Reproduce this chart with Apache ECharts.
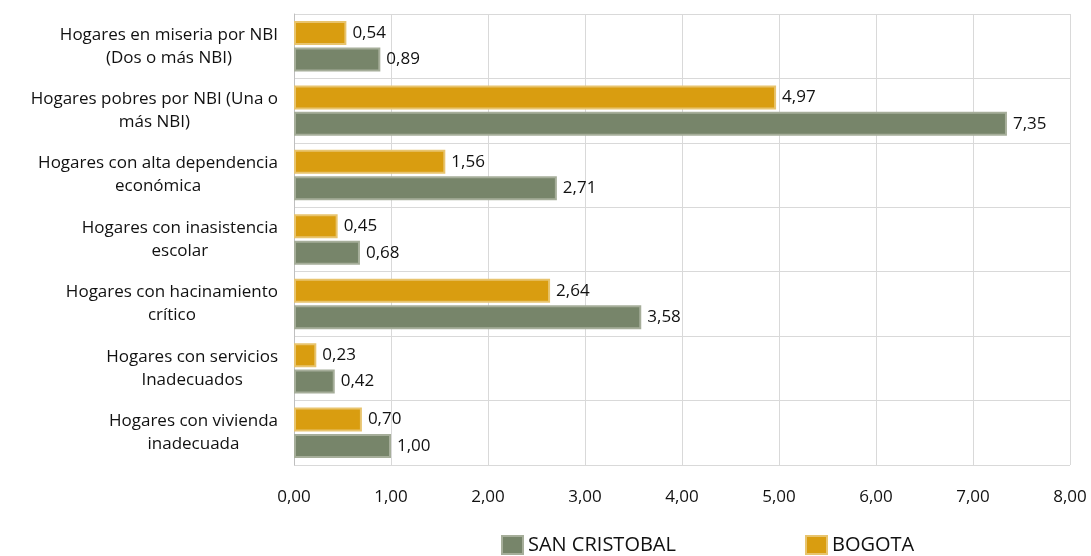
<!DOCTYPE html>
<html><head><meta charset="utf-8">
<script src="https://cdn.jsdelivr.net/npm/echarts@6/dist/echarts.min.js"></script>
<style>html,body{margin:0;padding:0;background:#fff}#c{width:1091px;height:556px}</style>
</head><body><div id="c"></div>
<script>
// bottom-to-top order (ECharts category y axis starts at the bottom)
const categories = [
  "Hogares con vivienda\ninadecuada",
  "Hogares con servicios\nInadecuados",
  "Hogares con hacinamiento\ncrítico",
  "Hogares con inasistencia\nescolar",
  "Hogares con alta dependencia\neconómica",
  "Hogares pobres por NBI (Una o\nmás NBI)",
  "Hogares en miseria por NBI\n(Dos o más NBI)"
];
const sanCristobal = [1.00, 0.42, 3.58, 0.68, 2.71, 7.35, 0.89];
const bogota = [0.70, 0.23, 2.64, 0.45, 1.56, 4.97, 0.54];
const seriesNames = ["SAN CRISTOBAL", "BOGOTA"];

const fmt = v => v.toFixed(2).replace('.', ',');
const chart = echarts.init(document.getElementById('c'), null, {renderer: 'canvas'});
const font = 'Open Sans';
const legendText = {fontSize: 20, color: '#111', fontFamily: font};
chart.setOption({
  animation: false,
  textStyle: {fontFamily: font},
  grid: {left: 294, right: 21, top: 14, bottom: 91},
  legend: [
    {left: 501, top: 535, padding: 0, itemWidth: 21, itemHeight: 18, itemGap: 4, icon: 'rect',
     textStyle: legendText, data: [seriesNames[0]]},
    {left: 805, top: 535, padding: 0, itemWidth: 21, itemHeight: 18, itemGap: 4, icon: 'rect',
     textStyle: legendText, data: [seriesNames[1]]}
  ],
  xAxis: {
    type: 'value', min: 0, max: 8, interval: 1,
    axisLine: {show: false}, axisTick: {show: false},
    splitLine: {lineStyle: {color: '#d9d9d9'}},
    axisLabel: {margin: 24, fontSize: 17, color: '#111', fontFamily: font, formatter: v => fmt(v)}
  },
  yAxis: {
    type: 'category', data: categories,
    axisLine: {show: true, lineStyle: {color: '#bfbfbf'}},
    axisTick: {show: false},
    splitLine: {show: true, lineStyle: {color: '#d9d9d9'}},
    axisLabel: {
      margin: 16, color: '#111',
      formatter: v => v.split('\n').map(s => '{a|' + s + '}').join('\n'),
      rich: {a: {align: 'center', fontSize: 17, lineHeight: 23, fontFamily: font, color: '#111'}}
    }
  },
  series: [
    {
      name: seriesNames[1], type: 'bar', data: bogota, barWidth: 24, barGap: '10%',
      itemStyle: {color: '#d99d10', borderColor: '#e8c46e', borderWidth: 2},
      label: {show: true, position: 'right', distance: 6, fontSize: 17, color: '#111', fontFamily: font, formatter: p => fmt(p.value)}
    },
    {
      name: seriesNames[0], type: 'bar', data: sanCristobal, barWidth: 24,
      itemStyle: {color: '#77856a', borderColor: '#a6ae9a', borderWidth: 2},
      label: {show: true, position: 'right', distance: 6, fontSize: 17, color: '#111', fontFamily: font, formatter: p => fmt(p.value)}
    }
  ]
});
</script></body></html>
